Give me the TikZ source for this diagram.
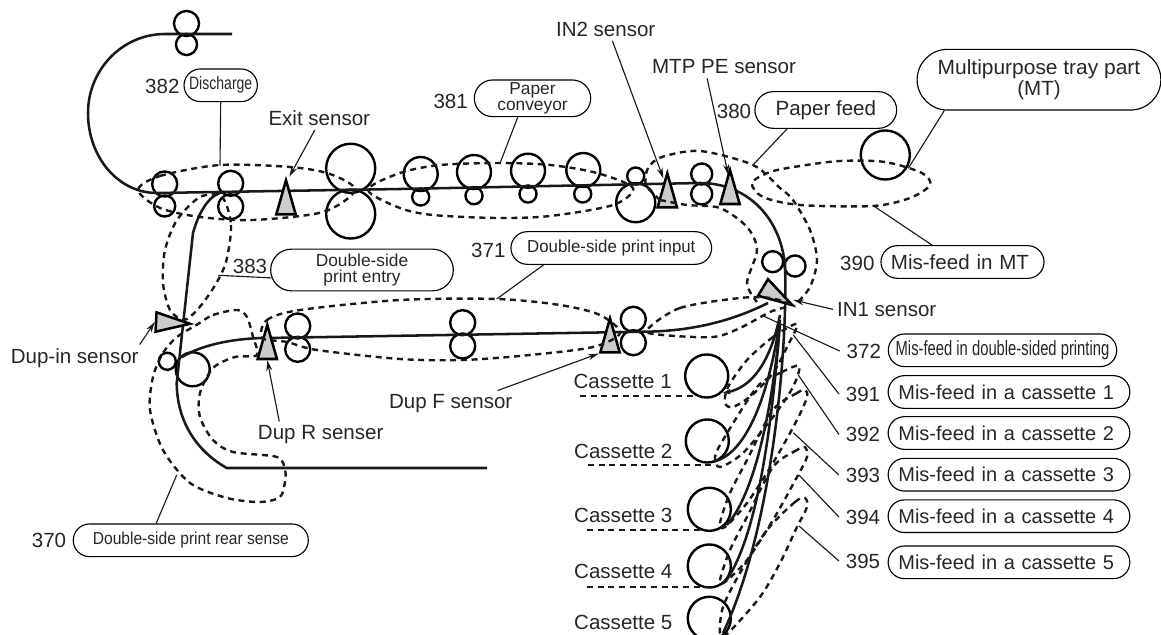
\documentclass[tikz,border=0pt]{standalone}
\usepackage{fontspec}
\setmainfont{Liberation Sans}
\usetikzlibrary{arrows.meta,shapes.geometric,shapes.misc}
\newcommand{\lblfont}{\fontsize{15.4}{16.3}\selectfont}
\newcommand{\pillfont}{\fontsize{13}{11.5}\selectfont}
\tikzset{
  txt/.style={font=\lblfont, inner sep=3pt, text=black!85},
  num/.style={font=\lblfont, inner ysep=1pt, inner xsep=5pt, text=black!85},
  pill/.style={draw, rounded rectangle, line width=0.85pt, minimum height=24.5pt, inner sep=0pt, align=center, font=\lblfont, text=black!85},
  spill/.style={pill, font=\pillfont},
  cpill/.style={pill, minimum width=181.3pt, text width=166pt, align=left, font=\fontsize{15}{16}\selectfont},
  roll/.style={draw, circle, line width=1.8pt, inner sep=0pt},
  rolla/.style={roll, minimum size=12.8pt},
  rollb/.style={roll, minimum size=15.8pt},
  rollc/.style={roll, minimum size=18.8pt},
  rolld/.style={roll, minimum size=25.5pt},
  rolle/.style={roll, minimum size=36.8pt},
  rollf/.style={roll, minimum size=32.3pt},
  tri/.style={draw, fill=gray!40, line width=1.9pt, isosceles triangle, isosceles triangle stretches, inner sep=0pt, minimum height=25.5pt, minimum width=14.5pt, anchor=apex},
  paper/.style={line width=1.9pt, black!90},
  zone/.style={line width=1.8pt, black!90, dash pattern=on 4.5pt off 3.5pt},
  lead/.style={line width=0.85pt, black!90},
  arr/.style={lead, -{Stealth[length=8pt,width=4.5pt]}},
}
\begin{document}
\begin{tikzpicture}[x=0.75pt,y=-0.75pt]
\useasboundingbox (0,0) rectangle (1161,635);
\clip (0,0) rectangle (1161,635);

\node[rollc] (rExitA) at (186.5,23.5) {};
\node[rollb] (rExitB) at (186.5,44.5) {};
\node[rollc] (rDisA) at (164.7,184) {};
\node[rollb] (rDisB) at (164.7,206) {};
\node[rollc] (rDisC) at (230.7,183.3) {};
\node[rollc] (rDisD) at (230.7,206.7) {};
\node[rolle] (rBigA) at (350.7,168.3) {};
\node[rolle] (rBigB) at (350.7,214) {};
\node[rolld] (rConvA) at (420.7,174) {};
\node[rolla] (rConvB) at (420.7,197) {};
\node[rolld] (rConvC) at (474,172) {};
\node[rolla] (rConvD) at (474,195.7) {};
\node[rolld] (rConvE) at (528,170.7) {};
\node[rolla] (rConvF) at (528,194) {};
\node[rolld] (rConvG) at (583.3,170) {};
\node[rolla] (rConvH) at (582.7,194) {};
\node[rolla] (rRegA) at (635.7,176) {};
\node[roll, minimum size=29.3pt] (rRegB) at (635.7,202.7) {};
\node[rollb] (rFeedA) at (701.7,174) {};
\node[rollb] (rFeedB) at (701.7,194) {};
\node[rollb] (rInA) at (772.7,261.7) {};
\node[rollb] (rInB) at (795,266) {};
\node[rolle] (rMT) at (885.3,155) {};
\node[rolla] (rDupA) at (167.3,361.3) {};
\node[rolld] (rDupB) at (192.7,369.3) {};
\node[rollc] (rDupC) at (297.7,326) {};
\node[rollc] (rDupD) at (297.7,349.3) {};
\node[rollc] (rDupE) at (462.7,322.7) {};
\node[rollc] (rDupF) at (462.7,346) {};
\node[rollc] (rDupG) at (633.3,319.3) {};
\node[rollc] (rDupH) at (633.3,342.7) {};
\node[rollf] (rCasA) at (706.7,376) {};
\node[rollf] (rCasB) at (707.3,441) {};
\node[rollf] (rCasC) at (709.3,509.3) {};
\node[rollf] (rCasD) at (709.3,566) {};
\node[rollf] (rCasE) at (709.3,618.3) {};

\draw[paper] (232,34) -- (165,34) .. controls (122,34) and (88,70) .. (88,113) .. controls (88,157) and (118,193) .. (157,193) -- (400,189) -- (700,183) .. controls (745,183) and (780,215) .. (785,265) .. controls (788,350) and (772,530) .. (723,633);
\draw[paper] (224,192) .. controls (208,194) and (198,215) .. (193,233) -- (176.7,383) .. controls (177,420) and (195,450) .. (226.7,468) -- (487,468);
\draw[paper] (182,357) .. controls (205,343) and (240,338) .. (267,338) -- (646,331.7) .. controls (690,331) and (730,322) .. (768,303);
\draw[paper, <-, >={Stealth[length=6pt,width=4pt]}] (722.7,393) .. controls (750,388) and (770,365) .. (780,315);
\draw[paper] (713,461.7) .. controls (745,455) and (768,400) .. (780,320);
\draw[paper] (726.7,525) .. controls (750,500) and (770,430) .. (780,325);
\draw[paper] (726.7,580) .. controls (750,545) and (768,470) .. (779,335);

\draw[zone] (580,396) -- (700,396);
\draw[zone] (588,465) -- (713,465);
\draw[zone] (587,530) -- (705,530);
\draw[zone] (587,586.7) -- (710,586.7);

\node[tri, rotate=90] (tExit) at (286,177) {};
\node[tri, rotate=90] (tIN2) at (667.3,170) {};
\node[tri, rotate=90] (tMTP) at (730,166.7) {};
\node[tri, rotate=-31] (tIN1) at (795,306.7) {};
\node[tri, rotate=-3] (tDupIn) at (193.3,324) {};
\node[tri, rotate=90] (tDupR) at (267.3,321.7) {};
\node[tri, rotate=90] (tDupF) at (610,315) {};

\draw[zone] plot[smooth cycle] coordinates {(138,190) (160,176) (220,165) (290,167) (330,174) (355,190) (323,212) (253,220) (200,217) (160,208)};
\draw[zone] plot[smooth cycle] coordinates {(368,190) (400,173) (440,165) (500,163) (550,165) (597,173) (633,188) (613,205) (550,216) (497,218) (433,215) (400,208)};
\draw[zone] plot[smooth] coordinates {(660,200) (646,185) (648,168) (662,157) (700,151) (753,165) (780,188) (793,200) (810,230) (817,260) (810,287) (795,305)};
\draw[zone] plot[smooth] coordinates {(660,200) (687,205) (720,208) (747,227) (757,250) (747,283) (757,302)};
\draw[zone] plot[smooth cycle] coordinates {(922,173) (885,162) (840,161) (800,166) (770,172) (752,183) (763,197) (800,205) (873,206) (910,198) (930,185)};
\draw[zone] plot[smooth cycle] coordinates {(222,197) (231,225) (226,262) (214,287) (198,309) (184,320) (170,310) (163,283) (165,250) (177,220) (200,197)};
\draw[zone] plot[smooth cycle] coordinates {(198,324) (213,315) (237,310) (247,317) (253,337) (257,355) (235,357) (213,368) (200,393) (200,417) (213,440) (233,452) (277,457) (285,470) (285,482) (280,497) (260,502) (227,498) (190,483) (163,450) (150,410) (153,377) (163,353) (177,337)};
\draw[zone] plot[smooth cycle] coordinates {(262,338) (267,320) (300,310) (400,300) (497,299) (560,305) (600,315) (620,333) (593,347) (530,355) (463,360) (400,359) (317,350) (287,342)};
\draw[zone] plot[smooth cycle] coordinates {(647,330) (680,308) (740,298) (770,298) (790,305) (770,312) (740,328) (713,337) (663,335)};
\draw[zone] plot[smooth cycle] coordinates {(797,324) (773,337) (747,360) (728,387) (725,403) (733,407) (752,395) (773,373) (787,347)};
\draw[zone] plot[smooth cycle] coordinates {(799,366) (780,373) (757,387) (723,440) (715,457) (720,467) (743,453) (773,417) (793,387)};
\draw[zone] plot[smooth cycle] coordinates {(805,390) (797,393) (773,410) (747,460) (730,493) (720,523) (725,527) (747,503) (773,463) (797,420) (807,397)};
\draw[zone] plot[smooth cycle] coordinates {(805,447) (797,450) (773,467) (747,517) (730,550) (720,580) (725,582) (747,560) (773,520) (797,477) (807,457)};
\draw[zone] plot[smooth cycle] coordinates {(805,498) (795,502) (767,530) (740,573) (723,607) (720,633) (728,633) (760,597) (780,563) (797,527) (807,507)};

\node[num] (n382) at (162.3,86) {382};
\node[pill, minimum width=55pt] (pDis) at (220.7,85.3) {\scalebox{.78}[1]{\fontsize{13.5}{14}\selectfont Discharge}};
\node[num] (n381) at (450.7,101.7) {381};
\node[spill, minimum width=87.3pt, minimum height=27.5pt] (pConv) at (532.5,98.3) {Paper\\conveyor};
\node[num] (n380) at (734,111.7) {380};
\node[pill, minimum width=106.3pt, minimum height=27.5pt] (pFeed) at (825.8,110) {Paper feed};
\node[pill, minimum width=182.8pt, minimum height=45.5pt] (pMT) at (1039,79.7) {\scalebox{1.02}[1]{Multipurpose tray part}\\(MT)};
\node[num] (n390) at (857.3,263.3) {390};
\node[pill, minimum width=122.3pt, text width=107.3pt, align=left] (pMisMT) at (962.5,262) {Mis-feed in MT};
\node[num] (n383) at (250,266) {383};
\node[spill, minimum width=137pt, minimum height=31.3pt] (pEntry) at (362,270) {Double-side\\print entry};
\node[num] (n371) at (488.3,250) {371};
\node[spill, minimum width=150.5pt] (pInput) at (611.3,248) {\scalebox{.97}[1]{Double-side print input}};
\node[num] (n370) at (49,540) {370};
\node[spill, minimum width=176.3pt] (pRear) at (190.8,540.3) {\scalebox{.9}[1]{Double-side print rear sense}};
\node[num] (n372) at (863.8,351) {372};
\node[pill, minimum width=171.3pt] (pMis372) at (1002.5,350.3) {\scalebox{.72}[1]{Mis-feed in double-sided printing}};
\node[num] (n391) at (863,394) {391};
\node[cpill] (pMis391) at (1009,392) {Mis-feed in a cassette 1};
\node[num] (n392) at (863,434.5) {392};
\node[cpill] (pMis392) at (1009,433) {Mis-feed in a cassette 2};
\node[num] (n393) at (863,475) {393};
\node[cpill] (pMis393) at (1009,474.7) {Mis-feed in a cassette 3};
\node[num] (n394) at (863,517) {394};
\node[cpill] (pMis394) at (1009,516.2) {Mis-feed in a cassette 4};
\node[num] (n395) at (863,561) {395};
\node[cpill] (pMis395) at (1009,562.3) {Mis-feed in a cassette 5};

\node[txt] (sExit) at (319.3,118.3) {Exit sensor};
\node[txt] (sIN2) at (605.7,29.3) {IN2 sensor};
\node[txt] (sMTP) at (724,66.7) {MTP PE sensor};
\node[txt] (sIN1) at (886.7,309.3) {IN1 sensor};
\node[txt] (sDupIn) at (74.7,358.3) {Dup-in sensor};
\node[txt] (sDupR) at (320.7,435) {Dup R senser};
\node[txt] (sDupF) at (450.7,404) {Dup F sensor};
\node[txt] (sCasA) at (622.7,381.7) {Cassette 1};
\node[txt] (sCasB) at (623.3,451) {Cassette 2};
\node[txt] (sCasC) at (623.3,515) {Cassette 3};
\node[txt] (sCasD) at (623.3,571) {Cassette 4};
\node[txt] (sCasE) at (623.3,622.3) {Cassette 5};

\coordinate (cExit) at (289.3,176.7);
\coordinate (cIN2) at (663.3,178.3);
\coordinate (cMTP) at (728.3,175);
\coordinate (cIN1) at (793.3,300);
\coordinate (cDis) at (220,165.7);
\coordinate (cConv) at (500,163.3);
\coordinate (cFeed) at (753,165);
\coordinate (cMT) at (908.3,168.3);
\coordinate (cMisMT) at (873.3,205.7);
\coordinate (cEntry) at (218.3,275.3);
\coordinate (cInput) at (496.7,299);
\coordinate (cRear) at (176.7,475);
\coordinate (c372) at (763.3,316);
\coordinate (c391) at (793.3,335);
\coordinate (c392) at (798.3,375);
\coordinate (c393) at (793.3,432.7);
\coordinate (c394) at (799,475);
\coordinate (c395) at (799,526);

\draw[arr] (sExit.-111) -- (cExit);
\draw[arr] (sIN2.-60) -- (cIN2);
\draw[arr] (sMTP.-146) -- (cMTP);
\draw[arr] (sIN1.west) -- (cIN1);
\draw[arr] (sDupIn.12) -- (tDupIn.lower side);
\draw[arr] (sDupR.162) -- (tDupR.lower side);
\draw[arr] (sDupF.16) -- (tDupF.left corner);

\draw[lead] (pDis.south) -- (cDis);
\draw[lead] (pConv.-128) -- (cConv);
\draw[lead] (pFeed.-154) -- (cFeed);
\draw[lead] (pMT.-162) -- (cMT);
\draw[lead] (pMisMT.151) -- (cMisMT);
\draw[lead] (pEntry.-175) -- (cEntry);
\draw[lead] (pInput.-166) -- (cInput);
\draw[lead] (pRear.154) -- (cRear);
\draw[lead] (n372.west) -- (c372);
\draw[lead] (n391.west) -- (c391);
\draw[lead] (n392.west) -- (c392);
\draw[lead] (n393.west) -- (c393);
\draw[lead] (n394.west) -- (c394);
\draw[lead] (n395.west) -- (c395);

\end{tikzpicture}
\end{document}
